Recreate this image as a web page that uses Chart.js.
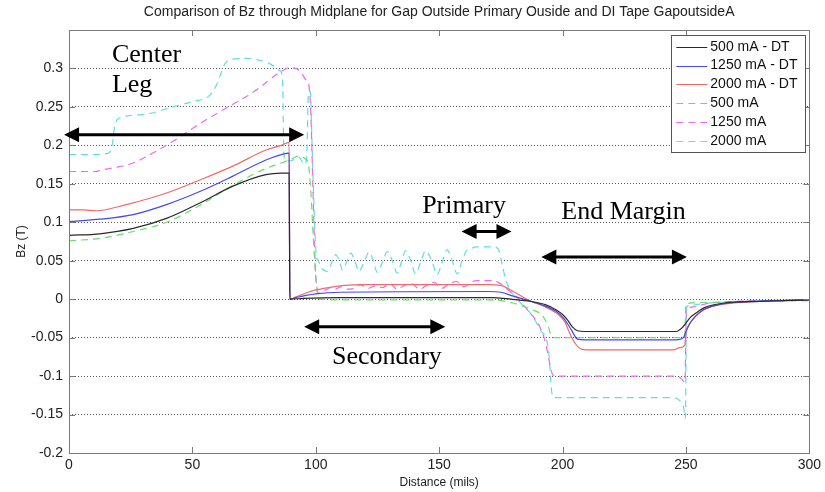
<!DOCTYPE html>
<html>
<head>
<meta charset="utf-8">
<title>Bz through Midplane</title>
<script src="https://cdn.jsdelivr.net/npm/chart.js@4.4.1/dist/chart.umd.min.js"></script>
<style>
  html, body { margin: 0; padding: 0; background: #fff; }
  canvas { display: block; }
</style>
</head>
<body>
<canvas id="bzChart" width="825" height="492"></canvas>
<script>
// Bz (T) against distance (mils), [x, y] pairs per current setting
const seriesLabels = ["500 mA - DT", "1250 mA - DT", "2000 mA - DT", "500 mA", "1250 mA", "2000 mA"];

const bz500DT = [[0,0.083],[12.5,0.085],[26,0.092],[39.5,0.105],[53,0.125],[66.4,0.147],[79.8,0.162],[86,0.164],[89.2,0.164],[89.5,0],
  [95,0.001],[110,0.002],[172,0.002],[176,0.001],[182,-0.001],[187.4,-0.003],[193,-0.007],[197.5,-0.014],[200,-0.02],[202,-0.027],
  [204,-0.036],[206,-0.041],[209,-0.042],[246,-0.042],[248.5,-0.037],[250,-0.031],[252,-0.023],[255,-0.016],[257.5,-0.011],
  [265.5,-0.005],[279,-0.003],[300,-0.001]];

const bz1250DT = [[0,0.101],[12.5,0.104],[26,0.11],[39.5,0.123],[53,0.14],[66.4,0.16],[79.8,0.181],[86,0.188],[89.2,0.19],[89.5,0],
  [92,0.002],[96,0.005],[100,0.007],[110,0.009],[170,0.01],[175,0.009],[180,0.004],[187.4,-0.003],[193,-0.009],[197.5,-0.016],
  [200.5,-0.025],[203.6,-0.04],[206,-0.052],[209,-0.053],[246,-0.053],[249,-0.05],[250,-0.042],[251.5,-0.032],[254,-0.022],
  [257,-0.014],[262,-0.008],[270,-0.004],[285,-0.002],[300,-0.001]];

const bz2000DT = [[0,0.116],[6,0.116],[11,0.115],[23.3,0.123],[39.5,0.138],[53,0.155],[66.4,0.173],[79.8,0.194],[86,0.2],[89.2,0.204],
  [89.5,0],[92,0.003],[96,0.008],[100,0.012],[105,0.015],[112,0.018],[120,0.019],[170,0.019],[175,0.018],[180,0.01],[187.4,-0.003],
  [193,-0.01],[198.3,-0.02],[201,-0.03],[203,-0.045],[205,-0.057],[207.6,-0.065],[210,-0.066],[245,-0.066],[247.5,-0.063],
  [249.5,-0.06],[250,-0.045],[251,-0.035],[253,-0.025],[256,-0.016],[260,-0.01],[266,-0.006],[280,-0.003],[300,-0.001]];

const bz500 = [[0,0.076],[12.5,0.079],[26,0.088],[39.5,0.1],[53,0.122],[66.4,0.148],[79.8,0.17],[86,0.177],[90,0.182],[93,0.186],
  [95.5,0.183],[97,0.175],[98,0.14],[99,0.08],[100,0.03],[101.5,0],[110,-0.001],[170,-0.001],[175,-0.002],[180,-0.005],
  [184.8,-0.01],[188,-0.014],[191.5,-0.02],[193,-0.027],[194.3,-0.036],[195.6,-0.049],[197,-0.05],[249.5,-0.05],[250,-0.006],
  [260,-0.004],[280,-0.002],[300,-0.001]];

const bz1250 = [[0,0.166],[10,0.166],[15,0.169],[20,0.172],[26,0.177],[34,0.19],[42,0.205],[50,0.222],[57,0.236],[64,0.249],
  [70,0.26],[75,0.27],[80,0.282],[84,0.292],[87,0.298],[89,0.301],[92,0.3],[94,0.295],[96,0.285],[97.3,0.276],[98,0.24],
  [98.8,0.15],[99.5,0.07],[100.2,0.02],[101,0.008],[104,0.012],[106,0.015],[108,0.013],[110,0.016],[113,0.013],[116,0.015],
  [118,0.019],[121,0.014],[124,0.017],[127,0.015],[130,0.02],[133,0.013],[136,0.018],[139,0.02],[142,0.013],[145,0.018],
  [148,0.022],[151,0.014],[154,0.02],[157,0.023],[160,0.016],[163,0.022],[165,0.024],[172,0.024],[175,0.02],[178,0.012],
  [182,0.001],[186,-0.015],[190,-0.031],[192.5,-0.05],[194,-0.07],[195.2,-0.09],[196.2,-0.099],[200,-0.1],[246,-0.1],
  [248,-0.103],[249.6,-0.108],[250.2,-0.015],[253,-0.01],[258,-0.006],[270,-0.003],[300,-0.001]];

const bz2000 = [[0,0.188],[10,0.188],[16,0.19],[17.5,0.2],[18.5,0.225],[20,0.235],[30,0.24],[42,0.25],[50,0.257],[57,0.265],
  [60,0.28],[63,0.305],[66,0.312],[72,0.313],[78,0.31],[82,0.305],[85,0.298],[86.5,0.29],[87,0.2],[87.5,0.18],[90,0.18],
  [93,0.185],[95.5,0.175],[96.5,0.2],[97,0.27],[97.8,0.27],[98.5,0.2],[99.5,0.1],[100.3,0.055],[101,0.05],[102.5,0.04],
  [104.7,0.036],[106.5,0.048],[108.1,0.058],[109.5,0.05],[110.8,0.038],[112.5,0.048],[114.2,0.06],[116,0.048],[117.5,0.036],
  [119.5,0.048],[121.6,0.061],[123.3,0.05],[124.9,0.035],[127,0.048],[129,0.062],[131,0.05],[133,0.034],[134.7,0.048],
  [136.4,0.063],[138.5,0.05],[140.4,0.033],[142.5,0.048],[144.5,0.063],[147,0.05],[149.2,0.032],[151.2,0.048],[153.2,0.064],
  [155.3,0.05],[157.3,0.033],[159.3,0.05],[161.3,0.064],[163,0.066],[165,0.068],[172,0.068],[174,0.065],[175.5,0.045],
  [177,0.025],[179.5,0.008],[183,-0.005],[187.4,-0.02],[191,-0.04],[194.3,-0.066],[195.6,-0.12],[196.5,-0.128],[245,-0.128],
  [247.5,-0.132],[249,-0.14],[249.8,-0.155],[250.2,-0.01],[252,-0.008],[256,-0.006],[265,-0.004],[280,-0.003],[300,-0.002]];

const xTicks = [0, 50, 100, 150, 200, 250, 300];
const yTicks = [-0.2, -0.15, -0.1, -0.05, 0, 0.05, 0.1, 0.15, 0.2, 0.25, 0.3];

// region markers: double arrows [x1, x2, y] and labels [text, x, y] in data units
const arrows = [[-2, 95.3, 0.2139], [95.3, 152.5, -0.0357], [159.1, 179.3, 0.088], [191.4, 250.4, 0.055]];
const notes = [["Center", 17.4, 0.309], ["Leg", 17.4, 0.27], ["Secondary", 106.6, -0.084], ["Primary", 143.1, 0.112], ["End Margin", 199.5, 0.1045]];

const chartTitle = "Comparison of Bz through Midplane for Gap Outside Primary Ouside and DI Tape GapoutsideA";

const sans = 'Arial, "Liberation Sans", Helvetica, sans-serif';
const serif = '"Times New Roman", "Liberation Serif", serif';
const axisGrey = "#7a7a7a";

const lineStyles = [
  { color: "#2a2a2a", dash: [] },
  { color: "#4848ee", dash: [] },
  { color: "#f06a6a", dash: [] },
  { color: "#6ade6a", dash: [7, 5] },
  { color: "#ec6aec", dash: [7, 5] },
  { color: "#5edede", dash: [7, 5] }
];
const seriesData = [bz500DT, bz1250DT, bz2000DT, bz500, bz1250, bz2000];

function fmt(v) {
  return String(Math.round(v * 100) / 100);
}

const decorations = {
  id: "decorations",
  afterDatasetsDraw(chart) {
    const { ctx, chartArea: a, scales: { x, y } } = chart;
    ctx.save();

    // title centred over the axes
    ctx.fillStyle = "#222";
    ctx.font = "14px " + sans;
    ctx.textAlign = "center";
    ctx.textBaseline = "middle";
    ctx.fillText(chartTitle, (a.left + a.right) / 2, 12);

    // axes box plus inward ticks on all four sides
    ctx.strokeStyle = axisGrey;
    ctx.lineWidth = 1;
    ctx.setLineDash([]);
    ctx.strokeRect(Math.round(a.left) + 0.5, Math.round(a.top) + 0.5, Math.round(a.right - a.left), Math.round(a.bottom - a.top));
    ctx.beginPath();
    xTicks.forEach(v => {
      const px = Math.round(x.getPixelForValue(v)) + 0.5;
      ctx.moveTo(px, a.bottom); ctx.lineTo(px, a.bottom - 6);
      ctx.moveTo(px, a.top); ctx.lineTo(px, a.top + 6);
    });
    yTicks.forEach(v => {
      const py = Math.round(y.getPixelForValue(v)) + 0.5;
      ctx.moveTo(a.left, py); ctx.lineTo(a.left + 6, py);
      ctx.moveTo(a.right, py); ctx.lineTo(a.right - 6, py);
    });
    ctx.stroke();

    // double-headed arrows
    ctx.fillStyle = "#000";
    ctx.strokeStyle = "#000";
    ctx.lineWidth = 3;
    arrows.forEach(([x1, x2, yv]) => {
      const l = x.getPixelForValue(x1), r = x.getPixelForValue(x2), py = y.getPixelForValue(yv);
      const head = 15, half = 7.5;
      ctx.beginPath();
      ctx.moveTo(l + head - 2, py); ctx.lineTo(r - head + 2, py);
      ctx.stroke();
      ctx.beginPath();
      ctx.moveTo(l, py); ctx.lineTo(l + head, py - half); ctx.lineTo(l + head, py + half); ctx.closePath();
      ctx.moveTo(r, py); ctx.lineTo(r - head, py - half); ctx.lineTo(r - head, py + half); ctx.closePath();
      ctx.fill();
    });

    ctx.font = "26px " + serif;
    ctx.textBaseline = "alphabetic";
    ctx.textAlign = "left";
    notes.forEach(([t, xv, yv]) => ctx.fillText(t, x.getPixelForValue(xv), y.getPixelForValue(yv)));

    // legend box, top right inside the axes
    const w = 134, rowH = 18.8;
    const h = rowH * chart.data.datasets.length + 4;
    const lx = a.right - w - 4, ly = a.top + 5;
    ctx.fillStyle = "#fff";
    ctx.fillRect(lx, ly, w, h);
    ctx.strokeStyle = "#555";
    ctx.lineWidth = 1;
    ctx.strokeRect(Math.round(lx) + 0.5, Math.round(ly) + 0.5, w, Math.round(h));
    ctx.font = "14px " + sans;
    ctx.textBaseline = "middle";
    chart.data.datasets.forEach((ds, i) => {
      const cy = ly + 11.7 + i * rowH;
      ctx.strokeStyle = ds.borderColor;
      ctx.setLineDash(ds.borderDash);
      ctx.beginPath();
      ctx.moveTo(lx + 5, Math.round(cy) + 0.5); ctx.lineTo(lx + 36, Math.round(cy) + 0.5);
      ctx.stroke();
      ctx.setLineDash([]);
      ctx.fillStyle = "#111";
      ctx.fillText(ds.label, lx + 39, cy);
    });
    ctx.restore();
  }
};

new Chart(document.getElementById("bzChart"), {
  type: "line",
  data: {
    datasets: seriesData.map((pts, i) => ({
      label: seriesLabels[i],
      data: pts.map(([px, py]) => ({ x: px, y: py })),
      borderColor: lineStyles[i].color,
      borderDash: lineStyles[i].dash,
      borderWidth: 1.2,
      pointRadius: 0,
      cubicInterpolationMode: "monotone",
      fill: false
    }))
  },
  options: {
    responsive: false,
    animation: false,
    layout: { padding: { left: 0, right: 13, top: 30, bottom: 0 } },
    plugins: {
      legend: { display: false },
      tooltip: { enabled: false },
      title: { display: false }
    },
    scales: {
      x: {
        type: "linear",
        min: 0,
        max: 300,
        afterBuildTicks: s => { s.ticks = xTicks.map(v => ({ value: v })); },
        afterFit: s => { s.height = 39; },
        grid: { display: false, drawTicks: false },
        border: { display: false },
        ticks: { color: "#222", font: { family: sans, size: 14 }, padding: 4, maxRotation: 0 },
        title: { display: true, text: "Distance (mils)", color: "#222", font: { family: sans, size: 12 }, padding: { top: 0, bottom: 2 } }
      },
      y: {
        type: "linear",
        min: -0.2,
        max: 0.35,
        afterBuildTicks: s => { s.ticks = yTicks.map(v => ({ value: v })); },
        afterFit: s => { s.width = 69; },
        grid: { color: "#555", lineWidth: 1, drawTicks: false },
        border: { display: false, dash: [1, 2] },
        ticks: { color: "#222", font: { family: sans, size: 14 }, padding: 6, callback: v => fmt(v) },
        title: { display: true, text: "Bz (T)", color: "#222", font: { family: sans, size: 12 }, padding: { top: 14, bottom: 0 } }
      }
    }
  },
  plugins: [decorations]
});
</script>
</body>
</html>
